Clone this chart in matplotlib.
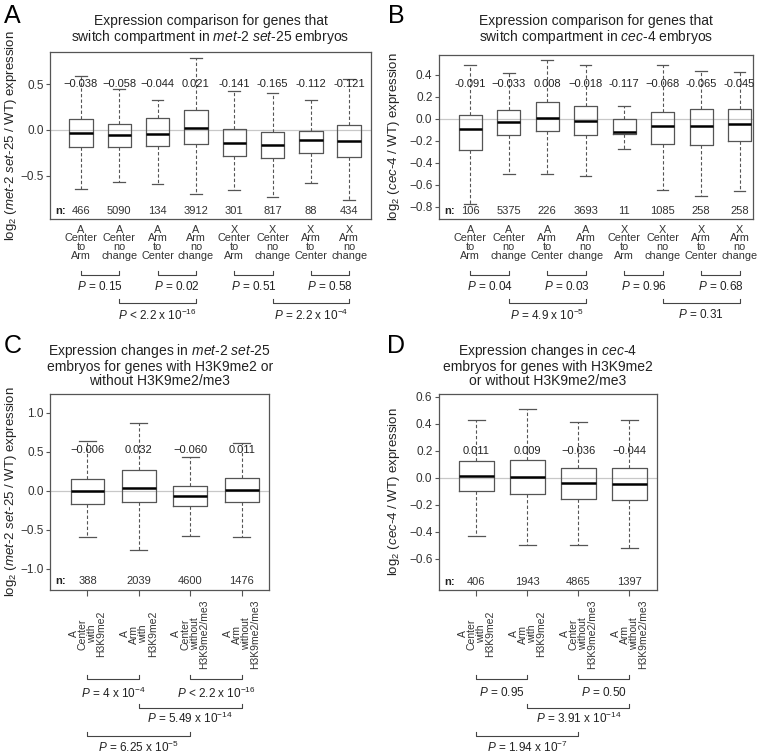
import matplotlib
matplotlib.use("Agg")
import matplotlib.pyplot as plt
from matplotlib.transforms import blended_transform_factory

plt.rcParams['font.family'] = ['Liberation Sans', 'DejaVu Sans']
plt.rcParams['mathtext.fontset'] = 'custom'
plt.rcParams['mathtext.rm'] = 'Liberation Sans'
plt.rcParams['mathtext.it'] = 'Liberation Sans:italic'
plt.rcParams['text.color'] = '#222222'

W, H = 762, 754
NARROW = ['Liberation Sans Narrow', 'Liberation Sans', 'DejaVu Sans']

# --- panel A / B categories
ab_labels = ["A\nCenter\nto\nArm", "A\nCenter\nno\nchange", "A\nArm\nto\nCenter", "A\nArm\nno\nchange",
             "X\nCenter\nto\nArm", "X\nCenter\nno\nchange", "X\nArm\nto\nCenter", "X\nArm\nno\nchange"]

# --- panel A (met-2 set-25)
a_med = [-0.038, -0.058, -0.044, 0.021, -0.141, -0.165, -0.112, -0.121]
a_med_txt = ["\u22120.038", "\u22120.058", "\u22120.044", "0.021", "-0.141", "-0.165", "-0.112", "-0.121"]
a_q1 = [-0.19, -0.19, -0.17, -0.15, -0.28, -0.31, -0.25, -0.29]
a_q3 = [0.12, 0.065, 0.13, 0.214, 0.008, -0.018, -0.007, 0.058]
a_lo = [-0.64, -0.57, -0.59, -0.70, -0.65, -0.73, -0.576, -0.76]
a_hi = [0.587, 0.45, 0.33, 0.78, 0.42, 0.40, 0.326, 0.56]
a_n = [466, 5090, 134, 3912, 301, 817, 88, 434]
a_p_row1 = ["$P$ = 0.15", "$P$ = 0.02", "$P$ = 0.51", "$P$ = 0.58"]
a_p_row2 = ["$P$ < 2.2 x 10$^{-16}$", "$P$ = 2.2 x 10$^{-4}$"]

# --- panel B (cec-4)
b_med = [-0.091, -0.033, 0.008, -0.018, -0.117, -0.068, -0.065, -0.045]
b_med_txt = ["-0.091", "\u22120.033", "0.008", "\u22120.018", "-0.117", "\u22120.068", "-0.065", "-0.045"]
b_q1 = [-0.287, -0.15, -0.11, -0.143, -0.14, -0.226, -0.235, -0.205]
b_q3 = [0.034, 0.079, 0.15, 0.116, 0.0, 0.06, 0.088, 0.088]
b_lo = [-0.77, -0.50, -0.50, -0.52, -0.278, -0.645, -0.70, -0.653]
b_hi = [0.486, 0.42, 0.535, 0.49, 0.12, 0.49, 0.437, 0.43]
b_n = [106, 5375, 226, 3693, 11, 1085, 258, 258]
b_p_row1 = ["$P$ = 0.04", "$P$ = 0.03", "$P$ = 0.96", "$P$ = 0.68"]
b_p_row2 = ["$P$ = 4.9 x 10$^{-5}$", "$P$ = 0.31"]

# --- panel C / D categories
cd_labels = ["A\nCenter\nwith\nH3K9me2", "A\nArm\nwith\nH3K9me2",
             "A\nCenter\nwithout\nH3K9me2/me3", "A\nArm\nwithout\nH3K9me2/me3"]

# --- panel C (met-2 set-25)
c_med = [-0.006, 0.032, -0.060, 0.011]
c_med_txt = ["\u22120.006", "0.032", "\u22120.060", "0.011"]
c_q1 = [-0.17, -0.146, -0.197, -0.146]
c_q3 = [0.155, 0.266, 0.06, 0.159]
c_lo = [-0.59, -0.76, -0.575, -0.59]
c_hi = [0.64, 0.875, 0.433, 0.614]
c_n = [388, 2039, 4600, 1476]
c_p = ["$P$ = 4 x 10$^{-4}$", "$P$ < 2.2 x 10$^{-16}$", "$P$ = 5.49 x 10$^{-14}$", "$P$ = 6.25 x 10$^{-5}$"]

# --- panel D (cec-4)
d_med = [0.011, 0.009, -0.036, -0.044]
d_med_txt = ["0.011", "0.009", "\u22120.036", "\u22120.044"]
d_q1 = [-0.099, -0.118, -0.155, -0.163]
d_q3 = [0.126, 0.133, 0.071, 0.074]
d_lo = [-0.429, -0.495, -0.495, -0.517]
d_hi = [0.431, 0.508, 0.41, 0.43]
d_n = [406, 1943, 4865, 1397]
d_p = ["$P$ = 0.95", "$P$ = 0.50", "$P$ = 3.91 x 10$^{-14}$", "$P$ = 1.94 x 10$^{-7}$"]


def fy(px):
    return 1 - px / H


fig = plt.figure(figsize=(W / 100, H / 100), dpi=100)
fig.patch.set_facecolor('white')


def boxes(ax, med, q1, q3, lo, hi, width):
    pos = list(range(1, len(med) + 1))
    stats = [dict(med=m, q1=a, q3=b, whislo=l, whishi=h, fliers=[])
             for m, a, b, l, h in zip(med, q1, q3, lo, hi)]
    ax.axhline(0, color='#c8c8c8', lw=0.9, zorder=0.5)
    ax.bxp(stats, positions=pos, widths=width, showfliers=False, manage_ticks=False,
           boxprops=dict(color='#555555', lw=0.9),
           medianprops=dict(color='black', lw=1.8),
           whiskerprops=dict(color='#555555', lw=0.8, linestyle=(0, (3, 2))),
           capprops=dict(color='#555555', lw=0.9))
    for s in ax.spines.values():
        s.set_color('#555555')
        s.set_linewidth(0.9)
    ax.tick_params(axis='y', length=3, width=0.8, color='#555555', pad=1.5,
                   labelsize=8.5, labelcolor='#333333')
    return pos


def annotate(ax, pos, med_txt, y_med, n, y_n, n_x):
    for p, t in zip(pos, med_txt):
        ax.text(p, y_med, t, ha='center', va='center', fontsize=8)
    for p, v in zip(pos, n):
        ax.text(p, y_n, str(v), ha='center', va='center', fontsize=8, color='#333333')
    tr = blended_transform_factory(ax.transAxes, ax.transData)
    ax.text(n_x, y_n, "n:", transform=tr, ha='left', va='center', fontsize=8, fontweight='bold')


def bracket(ax, x1, x2, ypx, label, label_px):
    tr = blended_transform_factory(ax.transData, fig.transFigure)
    ax.plot([x1, x1, x2, x2], [fy(ypx - 4), fy(ypx), fy(ypx), fy(ypx - 4)], transform=tr,
            clip_on=False, color='#444444', lw=0.8)
    ax.text((x1 + x2) / 2, fy(label_px), label, transform=tr, ha='center', va='center',
            fontsize=8.5)


def title(ax, text, ypx):
    tr = blended_transform_factory(ax.transAxes, fig.transFigure)
    ax.text(0.5, fy(ypx), text, transform=tr, ha='center', va='center', fontsize=10,
            linespacing=1.0)


# ---------------- A ----------------
axA = fig.add_axes([50 / W, fy(219), 321 / W, 167 / H])
pos = boxes(axA, a_med, a_q1, a_q3, a_lo, a_hi, 0.61)
annotate(axA, pos, a_med_txt, 0.5, a_n, -0.88, 0.016)
axA.set_xticks(pos, ab_labels)
axA.set_yticks([-0.5, 0.0, 0.5])
for i in range(4):
    bracket(axA, pos[2 * i], pos[2 * i + 1], 275, a_p_row1[i], 287)
bracket(axA, pos[1], pos[3], 303, a_p_row2[0], 315)
bracket(axA, pos[5], pos[7], 303, a_p_row2[1], 315)
axA.set_xlim(0.19, 8.57)
axA.set_ylim(-0.97, 0.85)
title(axA, "Expression comparison for genes that\n"
      r"switch compartment in $\mathit{met}$-$\mathit{2\ set}$-$\mathit{25}$ embryos", 30)

# ---------------- B ----------------
axB = fig.add_axes([438.7 / W, fy(219), 314 / W, 164 / H])
pos = boxes(axB, b_med, b_q1, b_q3, b_lo, b_hi, 0.6)
annotate(axB, pos, b_med_txt, 0.32, b_n, -0.84, 0.017)
axB.set_xticks(pos, ab_labels)
axB.set_yticks([-0.8, -0.6, -0.4, -0.2, 0.0, 0.2, 0.4])
for i in range(4):
    bracket(axB, pos[2 * i], pos[2 * i + 1], 275, b_p_row1[i], 287)
bracket(axB, pos[1], pos[3], 303, b_p_row2[0], 315)
bracket(axB, pos[5], pos[7], 303, b_p_row2[1], 315)
axB.set_xlim(0.18, 8.34)
axB.set_ylim(-0.91, 0.58)
title(axB, "Expression comparison for genes that\n"
      r"switch compartment in $\mathit{cec}$-$\mathit{4}$ embryos", 30)

for ax in (axA, axB):
    ax.tick_params(axis='x', length=0, pad=4)
    for t in ax.get_xticklabels():
        t.set_fontfamily(NARROW)
        t.set_fontsize(7.8)
        t.set_linespacing(0.85)
        t.set_color('#333333')

# ---------------- C ----------------
axC = fig.add_axes([50 / W, fy(590), 219.3 / W, 196 / H])
pos = boxes(axC, c_med, c_q1, c_q3, c_lo, c_hi, 0.66)
annotate(axC, pos, c_med_txt, 0.52, c_n, -1.16, 0.023)
axC.set_yticks([-1.0, -0.5, 0.0, 0.5, 1.0])
bracket(axC, pos[0], pos[1], 679, c_p[0], 693)
bracket(axC, pos[2], pos[3], 679, c_p[1], 693)
bracket(axC, pos[1], pos[3], 708, c_p[2], 718)
bracket(axC, pos[0], pos[2], 736, c_p[3], 747)
axC.set_xlim(0.27, 4.54)
axC.set_ylim(-1.27, 1.24)
title(axC, r"Expression changes in $\mathit{met}$-$\mathit{2\ set}$-$\mathit{25}$" "\n"
      "embryos for genes with H3K9me2 or\nwithout H3K9me2/me3", 365)

# ---------------- D ----------------
axD = fig.add_axes([438.7 / W, fy(590), 218.3 / W, 196 / H])
pos = boxes(axD, d_med, d_q1, d_q3, d_lo, d_hi, 0.67)
annotate(axD, pos, d_med_txt, 0.2, d_n, -0.77, 0.024)
axD.set_yticks([-0.6, -0.4, -0.2, 0.0, 0.2, 0.4, 0.6])
bracket(axD, pos[0], pos[1], 679, d_p[0], 693)
bracket(axD, pos[2], pos[3], 679, d_p[1], 693)
bracket(axD, pos[1], pos[3], 708, d_p[2], 718)
bracket(axD, pos[0], pos[2], 736, d_p[3], 747)
axD.set_xlim(0.26, 4.54)
axD.set_ylim(-0.83, 0.62)
title(axD, r"Expression changes in $\mathit{cec}$-$\mathit{4}$" "\n"
      "embryos for genes with H3K9me2\nor without H3K9me2/me3", 365)

for ax in (axC, axD):
    ax.set_xticks(pos, [""] * len(pos))
    ax.tick_params(axis='x', length=4, width=0.8, color='#555555')
    tr = blended_transform_factory(ax.transData, fig.transFigure)
    for p, lab in zip(pos, cd_labels):
        ax.text(p, fy(634), lab, transform=tr, rotation=90, ha='center', va='center',
                multialignment='center', fontsize=7.5, linespacing=0.9, color='#333333')

# y labels
lab_met = r"log$_2$ $\mathit{(met}$-$\mathit{2\ set}$-$\mathit{25}$ / WT) expression"
lab_cec = r"log$_2$ $\mathit{(cec}$-$\mathit{4}$ / WT) expression"
fig.text(11 / W, fy(135.5), lab_met, rotation=90, ha='center', va='center', fontsize=9.5)
fig.text(394 / W, fy(137), lab_cec, rotation=90, ha='center', va='center', fontsize=9.5)
fig.text(11 / W, fy(492), lab_met, rotation=90, ha='center', va='center', fontsize=9.5)
fig.text(394 / W, fy(492), lab_cec, rotation=90, ha='center', va='center', fontsize=9.5)

# panel letters
for letter, x, y in [("A", 12, 16), ("B", 396, 16), ("C", 13, 346), ("D", 396, 346)]:
    fig.text(x / W, fy(y), letter, ha='center', va='center', fontsize=18, color='black')

fig.savefig("out.png", dpi=100, facecolor='white')
